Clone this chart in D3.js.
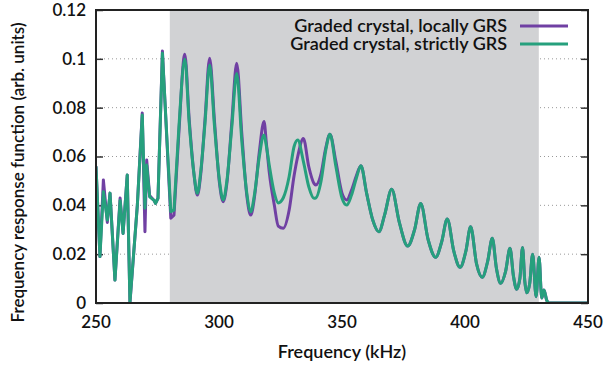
<!DOCTYPE html>
<html>
<head>
<meta charset="utf-8">
<script src="https://cdn.jsdelivr.net/npm/d3@7"></script>
<style>
  body { margin: 0; background: #fff; }
  text { font-family: Lato, "Open Sans", sans-serif; fill: #111; font-weight: 600; }
</style>
</head>
<body>
<svg id="chart" width="609" height="366"></svg>
<script>
// frequency grid (kHz) shared by both series
const freq = [250, 251.6, 253, 254.6, 255.7, 257.7, 259.8, 261, 262.7, 263.8, 266.8, 268.8, 269.9, 270.6, 271.8,
    273.6, 274.2, 275.2, 277, 280.4, 281.7, 283.7, 286.1, 287.9, 289.8, 291.2, 292.5, 294.3, 296.2, 298.2,
    300.2, 301.7, 303.2, 305.2, 307.2, 309.3, 311.3, 312.9, 314.5, 316.4, 318.3, 319.3, 320.5, 322.5, 324.1,
    326.1, 328.5, 330.5, 332, 334.3, 336.5, 338.6, 339.3, 341.5, 343.3, 345.1, 347.5, 350, 351.9, 353.8,
    355.8, 357.7, 360, 362.5, 365, 367.3, 370.2, 373.3, 376.7, 379.5, 382, 385, 388.1, 390.5, 392.8,
    395.5, 398, 400.3, 402.3, 404.7, 407, 409.2, 411.1, 412.8, 414.5, 416.5, 418.3, 419.7, 421, 422.3,
    423.4, 424.3, 425.1, 426.3, 427.5, 428.9, 430.1, 431.2, 432.1, 433.2, 434, 450];

const locallyGRS = [0.056, 0.019, 0.0504, 0.033, 0.045, 0.0094, 0.043, 0.0285, 0.0524, 0.0, 0.040, 0.0778, 0.0292, 0.0586, 0.044,
    0.042, 0.0408, 0.0429, 0.1032, 0.0347, 0.036, 0.070, 0.1019, 0.075, 0.053, 0.0442, 0.052, 0.075, 0.1002, 0.074,
    0.049, 0.0415, 0.049, 0.074, 0.0982, 0.069, 0.044, 0.036, 0.044, 0.062, 0.0743, 0.065, 0.053, 0.040, 0.0315,
    0.0306, 0.038, 0.052, 0.060, 0.0674, 0.0558, 0.049, 0.0483, 0.053, 0.063, 0.0691, 0.058, 0.045, 0.0422, 0.046,
    0.052, 0.0562, 0.045, 0.034, 0.0292, 0.036, 0.0466, 0.033, 0.0233, 0.030, 0.0408, 0.026, 0.0187, 0.025, 0.0344,
    0.021, 0.0146, 0.021, 0.0312, 0.016, 0.0105, 0.017, 0.0265, 0.014, 0.0081, 0.013, 0.0224, 0.011, 0.0056, 0.010,
    0.0227, 0.009, 0.0042, 0.008, 0.020, 0.0026, 0.0187, 0.002, 0.0053, 0.0012, 0, 0];

const strictlyGRS = [0.056, 0.019, 0.0456, 0.034, 0.045, 0.0094, 0.042, 0.0285, 0.0524, 0.0005, 0.040, 0.077, 0.0388, 0.0565, 0.0435,
    0.042, 0.0408, 0.0429, 0.1023, 0.0374, 0.038, 0.072, 0.0998, 0.0736, 0.0531, 0.0449, 0.0531, 0.0736, 0.0975, 0.072,
    0.050, 0.0422, 0.050, 0.072, 0.094, 0.066, 0.045, 0.0374, 0.045, 0.060, 0.0688, 0.064, 0.056, 0.045, 0.041,
    0.043, 0.0517, 0.064, 0.0668, 0.058, 0.0476, 0.0429, 0.043, 0.050, 0.062, 0.0691, 0.056, 0.043, 0.0401, 0.044,
    0.051, 0.0562, 0.045, 0.034, 0.0292, 0.036, 0.0466, 0.033, 0.0233, 0.030, 0.0408, 0.026, 0.0187, 0.025, 0.0344,
    0.021, 0.0146, 0.021, 0.0312, 0.016, 0.0105, 0.017, 0.0265, 0.014, 0.0081, 0.013, 0.0224, 0.011, 0.0056, 0.010,
    0.0227, 0.009, 0.0042, 0.008, 0.020, 0.0026, 0.0187, 0.002, 0.0053, 0.0012, 0, 0];

const xTicks = [250, 300, 350, 400, 450];
const yTicks = [0, 0.02, 0.04, 0.06, 0.08, 0.1, 0.12];
const band = [280, 430];
const noisyEnd = 281.7; // below this the curves are drawn as straight segments
const seriesNames = ["Graded crystal, locally GRS", "Graded crystal, strictly GRS"];
const colors = ["#7040a3", "#26a07d"];

const svg = d3.select("#chart"),
    margin = { top: 10, right: 21, bottom: 63, left: 96 },
    width = +svg.attr("width") - margin.left - margin.right,
    height = +svg.attr("height") - margin.top - margin.bottom;

const x = d3.scaleLinear().domain([250, 450]).range([margin.left, margin.left + width]);
const y = d3.scaleLinear().domain([0, 0.12]).range([margin.top + height, margin.top]);

// dotted grid (hidden under the shaded band)
svg.append("g").selectAll("line")
    .data(yTicks.filter(d => d > 0 && d < 0.12))
    .enter().append("line")
    .attr("x1", x(250)).attr("x2", x(450))
    .attr("y1", d => y(d)).attr("y2", d => y(d))
    .attr("stroke", "#999").attr("stroke-width", 1)
    .attr("stroke-dasharray", "1,3");

// shaded band
svg.append("rect")
    .attr("x", x(band[0])).attr("y", y(0.12))
    .attr("width", x(band[1]) - x(band[0]))
    .attr("height", y(0) - y(0.12))
    .attr("fill", "#d1d2d4");

// axes: inward ticks left and right
svg.append("g")
    .attr("transform", `translate(${x(250)},0)`)
    .call(d3.axisRight(y).tickValues(yTicks).tickSize(7).tickFormat(""))
    .call(g => g.select(".domain").remove())
    .call(g => g.selectAll("line").attr("stroke", "#333").attr("stroke-width", 1.5));
svg.append("g")
    .attr("transform", `translate(${x(450)},0)`)
    .call(d3.axisLeft(y).tickValues(yTicks).tickSize(7).tickFormat(""))
    .call(g => g.select(".domain").remove())
    .call(g => g.selectAll("line").attr("stroke", "#333").attr("stroke-width", 1.5));

// tick labels
svg.append("g").selectAll("text")
    .data(yTicks).enter().append("text")
    .attr("x", x(250) - 10).attr("y", d => y(d))
    .attr("dy", "0.35em")
    .attr("text-anchor", "end")
    .style("font-size", "17px")
    .text(d => d3.format("")(d));
svg.append("g").selectAll("text")
    .data(xTicks).enter().append("text")
    .attr("x", d => x(d)).attr("y", y(0) + 25)
    .attr("text-anchor", "middle")
    .style("font-size", "17px")
    .text(d => d);

// curves
svg.append("clipPath").attr("id", "clip")
    .append("rect").attr("x", x(250)).attr("y", y(0.12) - 2)
    .attr("width", width).attr("height", height + 2);

const lineSharp = d3.line()
    .x(d => x(d[0])).y(d => y(d[1]));
const lineSmooth = d3.line()
    .x(d => x(d[0])).y(d => y(d[1]))
    .curve(d3.curveMonotoneX);

function pathFor(vals) {
    const pts = freq.map((f, i) => [f, vals[i]]);
    const a = pts.filter(p => p[0] <= noisyEnd);
    const b = pts.filter(p => p[0] >= noisyEnd);
    return lineSharp(a) + lineSmooth(b).replace(/^M/, "L");
}

[locallyGRS, strictlyGRS].forEach((vals, k) => {
    svg.append("path")
        .attr("clip-path", "url(#clip)")
        .attr("d", pathFor(vals))
        .attr("fill", "none")
        .attr("stroke", colors[k])
        .attr("stroke-width", 3)
        .attr("stroke-linejoin", "round");
});

// frame
svg.append("rect")
    .attr("x", x(250)).attr("y", y(0.12))
    .attr("width", width).attr("height", height)
    .attr("fill", "none").attr("stroke", "#222").attr("stroke-width", 2);

// legend
seriesNames.forEach((name, i) => {
    const ly = 26 + i * 18;
    svg.append("text")
        .attr("x", 507).attr("y", ly).attr("dy", "0.35em")
        .attr("text-anchor", "end")
        .style("font-size", "18px")
        .text(name);
    svg.append("line")
        .attr("x1", 520).attr("x2", 568)
        .attr("y1", ly).attr("y2", ly)
        .attr("stroke", colors[i]).attr("stroke-width", 3);
});

// axis titles
svg.append("text")
    .attr("x", (x(250) + x(450)) / 2).attr("y", 358)
    .attr("text-anchor", "middle")
    .style("font-size", "18px")
    .text("Frequency (kHz)");
svg.append("text")
    .attr("transform", `translate(24,${(y(0) + y(0.12)) / 2 + 16}) rotate(-90)`)
    .attr("text-anchor", "middle")
    .style("font-size", "17px")
    .text("Frequency response function (arb. units)");
</script>
</body>
</html>
